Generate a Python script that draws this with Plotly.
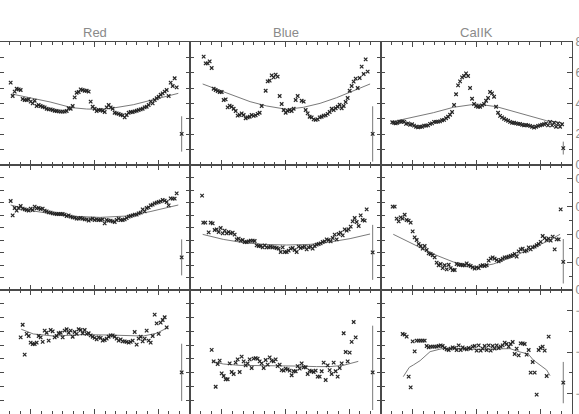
import plotly.graph_objects as go

# ======================================
# DATA
# ======================================

obs = [0, 1, 2, 3, 4, 5, 6, 7, 8, 9, 10, 11, 12, 13, 14, 15, 16, 17, 18, 19,
       20, 21, 22, 23, 24, 25, 26, 27, 28, 29, 30, 31, 32, 33, 34, 35, 36, 37, 38, 39,
       40, 41, 42, 43, 44, 45, 46, 47, 48, 49, 50, 51, 52, 53, 54, 55, 56, 57, 58, 59,
       60, 61, 62, 63, 64, 65, 66, 67, 68, 69, 70, 71, 72, 73, 74, 75, 76, 77, 78, 79,
       80, 81, 82, 83, 84, 85, 86]

titles = ["Red", "Blue", "CaIIK"]

# ---- top row ----
red_top_x = obs[0:84]
red_top_y = [5.36, 4.49, 4.77, 4.96, 4.92, 4.88, 4.29, 4.23, 4.23, 4.27,
             4.12, 4.01, 4.18, 3.84, 3.90, 3.84, 3.79, 3.75, 3.66, 3.62,
             3.62, 3.58, 3.53, 3.51, 3.49, 3.47, 3.47, 3.47, 3.51, 3.69,
             3.66, 3.84, 4.40, 4.70, 4.75, 4.92, 4.88, 4.83, 4.83, 4.77,
             4.12, 3.79, 3.66, 3.51, 3.58, 3.58, 3.53, 3.45, 3.75, 3.90,
             3.75, 3.66, 3.40, 3.36, 3.32, 3.27, 3.23, 3.10, 3.25, 3.40,
             3.45, 3.45, 3.49, 3.53, 3.58, 3.62, 3.66, 3.75, 3.79, 3.90,
             4.12, 4.01, 4.23, 4.34, 4.44, 4.57, 4.66, 4.77, 4.88, 4.49,
             5.36, 5.14, 5.64, 5.05]
red_top_fit_x = [0.5, 11.3, 19.7, 30.5, 38.0, 44.7, 50.5, 61.3, 69.7, 78.0, 83.8]
red_top_fit_y = [4.62, 4.31, 4.10, 3.73, 3.64, 3.62, 3.69, 3.92, 4.18, 4.44, 4.66]

blue_top_x = obs[1:31] + obs[32:49] + obs[50:84]
blue_top_y = [7.05, 6.61, 6.61, 6.74, 6.31, 4.96, 4.88, 4.81, 4.75, 4.75,
              4.23, 4.27, 3.75, 3.86, 3.79, 3.66, 3.51, 3.21, 3.25, 3.36,
              3.25, 3.04, 3.10, 3.14, 3.25, 3.19, 3.23, 3.32, 3.40, 3.84,
              4.83, 5.44, 5.49, 5.83, 5.70, 5.88, 5.75, 4.49, 3.97, 3.58,
              3.40, 3.51, 3.58, 3.51, 3.66, 4.23, 4.49, 4.18, 4.12,
              3.58, 3.36, 3.14, 3.10, 2.97, 2.93, 2.97, 3.10, 3.14, 3.21,
              3.23, 3.32, 3.45, 3.66, 3.58, 3.69, 3.79, 3.92, 3.69, 3.84,
              4.10, 4.36, 4.83, 5.14, 5.42, 5.62, 5.01, 5.66, 6.40, 5.92,
              6.87, 6.07]
blue_top_fit_x = [0.5, 7.5, 15.8, 24.2, 32.5, 42.5, 50.8, 59.2, 67.5, 75.8, 84.2]
blue_top_fit_y = [5.27, 4.92, 4.49, 4.12, 3.84, 3.62, 3.75, 4.01, 4.38, 4.83, 5.27]

cak_top_x = [-0.2, 0.7, 1.5, 2.3, 3.3, 4.2, 5.0, 5.8, 6.7, 7.7, 8.7, 9.7, 10.7, 11.7,
             12.7, 13.7, 14.7, 15.7, 16.7, 17.7, 18.7, 19.7, 20.7, 21.7, 22.7, 23.7,
             24.7, 25.7, 26.7, 27.7, 28.7, 29.7, 30.7, 31.7, 32.7, 33.7, 34.7, 35.7,
             36.7, 37.7, 38.7, 39.7, 40.7, 41.7, 42.7, 43.7, 44.7, 45.7, 46.7, 47.7,
             48.7, 49.7, 50.7, 51.7, 52.7, 53.7, 54.7, 55.7, 56.7, 57.7, 58.7, 59.7,
             60.7, 61.7, 62.7, 63.7, 64.7, 65.7, 66.7, 67.7, 68.7, 69.7, 70.7, 71.7,
             72.7, 73.7, 74.7, 75.7, 76.7, 77.7, 78.7, 79.7, 80.7, 81.7, 82.7, 83.7, 84.7]
cak_top_y = [2.78, 2.75, 2.71, 2.75, 2.82, 2.80, 2.84, 2.80, 2.67, 2.71,
             2.62, 2.65, 2.56, 2.49, 2.45, 2.49, 2.49, 2.56, 2.56, 2.58,
             2.67, 2.71, 2.80, 2.80, 2.82, 2.84, 2.91, 2.93, 3.04, 3.14,
             3.27, 3.45, 3.90, 4.60, 5.18, 5.44, 5.70, 5.79, 5.96, 5.79,
             5.01, 4.31, 3.97, 3.84, 3.79, 3.79, 3.88, 3.97, 4.18, 4.36,
             4.75, 4.66, 4.44, 3.79, 3.40, 3.19, 3.10, 3.01, 2.93, 2.88,
             2.80, 2.75, 2.75, 2.71, 2.67, 2.67, 2.62, 2.58, 2.60, 2.58,
             2.54, 2.49, 2.43, 2.49, 2.54, 2.58, 2.62, 2.65, 2.71, 2.58,
             2.80, 2.58, 2.75, 2.49, 2.71, 2.49, 2.65]
cak_top_fit_x = [0.0, 10.3, 20.3, 30.3, 42.0, 52.0, 60.3, 68.7, 77.0, 84.5]
cak_top_fit_y = [2.82, 3.10, 3.40, 3.75, 3.97, 3.79, 3.49, 3.14, 2.88, 2.75]

# ---- middle row ----
red_mid_x = obs[0:84]
red_mid_y = [7.12, 5.97, 6.56, 6.35, 6.56, 6.72, 6.51, 6.45, 6.40, 6.35,
             6.51, 6.40, 6.67, 6.53, 6.56, 6.48, 6.51, 6.35, 6.29, 6.21,
             6.19, 6.13, 6.11, 6.08, 6.08, 6.08, 6.08, 6.03, 5.92, 5.97,
             5.87, 5.81, 5.79, 5.71, 5.71, 5.76, 5.71, 5.65, 5.65, 5.55,
             5.65, 5.71, 5.60, 5.65, 5.60, 5.60, 5.65, 5.33, 5.60, 5.55,
             5.55, 5.49, 5.44, 5.60, 5.71, 5.60, 5.60, 5.65, 5.76, 5.87,
             5.92, 5.97, 6.03, 6.03, 6.13, 6.19, 6.45, 6.29, 6.56, 6.61,
             6.77, 6.83, 6.93, 6.99, 7.04, 7.09, 7.20, 7.15, 7.04, 6.77,
             7.33, 7.31, 7.31, 7.73]
red_mid_fit_x = [0.0, 11.3, 28.0, 44.7, 58.0, 69.7, 83.8]
red_mid_fit_y = [6.80, 6.32, 5.92, 5.81, 5.92, 6.27, 6.80]

blue_mid_x = [0.2, 0.8, 1.8, 3.5, 4.5, 5.5, 6.5, 7.5, 8.5, 9.5, 10.5, 11.5, 12.5,
              13.5, 14.5, 15.5, 16.5, 17.5, 18.5, 19.5, 20.5, 21.5, 22.5, 23.5,
              24.5, 25.5, 26.5, 27.5, 28.5, 29.5, 30.5, 31.5, 32.5, 33.5, 34.5,
              35.5, 36.5, 37.5, 38.5, 39.5, 40.5, 41.5, 42.5, 43.5, 44.5, 45.5,
              46.5, 47.5, 48.5, 49.5, 50.5, 51.5, 52.5, 53.5, 54.5, 55.5, 56.5,
              57.5, 58.5, 59.5, 60.5, 61.5, 62.5, 63.5, 64.5, 65.5, 66.5, 67.5,
              68.5, 69.5, 70.5, 71.5, 72.5, 73.5, 74.5, 75.5, 76.5, 77.5, 78.5,
              79.5, 80.5, 81.5, 82.5]
blue_mid_y = [7.55, 5.39, 5.39, 4.61, 5.39, 5.33, 4.80, 4.85, 4.64, 4.96,
              4.53, 4.75, 4.53, 4.64, 4.53, 4.59, 4.43, 4.05, 4.11, 3.95,
              4.00, 3.84, 3.84, 3.89, 3.95, 3.95, 3.92, 3.57, 3.52, 3.52,
              3.41, 3.57, 3.41, 3.41, 3.47, 3.41, 3.41, 3.36, 3.31, 3.04,
              3.41, 3.04, 3.04, 3.15, 3.31, 3.36, 3.20, 3.04, 3.47, 3.36,
              3.41, 3.47, 3.25, 3.41, 3.47, 3.31, 3.52, 3.63, 3.68, 3.73,
              3.84, 3.89, 4.05, 4.00, 3.89, 4.16, 4.43, 4.05, 4.48, 4.59,
              4.37, 4.85, 4.75, 4.85, 5.07, 5.49, 5.76, 5.44, 5.12, 5.97,
              5.60, 5.55, 6.45]
blue_mid_fit_x = [0.5, 10.8, 20.8, 30.8, 42.5, 54.2, 64.2, 74.2, 84.2]
blue_mid_fit_y = [4.45, 4.05, 3.79, 3.65, 3.60, 3.65, 3.84, 4.11, 4.48]

cak_mid_x = obs[0:85]
cak_mid_y = [0.0600, 0.0600, 0.0514, 0.0494, 0.0523, 0.0514, 0.0542, 0.0504, 0.0499, 0.0485,
             0.0422, 0.0379, 0.0360, 0.0331, 0.0317, 0.0298, 0.0317, 0.0288, 0.0264, 0.0259,
             0.0250, 0.0235, 0.0197, 0.0178, 0.0187, 0.0158, 0.0178, 0.0149, 0.0182, 0.0158,
             0.0144, 0.0144, 0.0187, 0.0182, 0.0182, 0.0178, 0.0178, 0.0192, 0.0178, 0.0173,
             0.0163, 0.0154, 0.0163, 0.0158, 0.0173, 0.0178, 0.0173, 0.0178, 0.0211, 0.0226,
             0.0235, 0.0226, 0.0216, 0.0206, 0.0216, 0.0226, 0.0235, 0.0235, 0.0240, 0.0245,
             0.0250, 0.0259, 0.0240, 0.0278, 0.0293, 0.0298, 0.0278, 0.0283, 0.0307, 0.0293,
             0.0307, 0.0312, 0.0322, 0.0331, 0.0346, 0.0389, 0.0374, 0.0360, 0.0370, 0.0355,
             0.0384, 0.0293, 0.0365, 0.0365, 0.0581]
cak_mid_fit_x = [0.3, 10.3, 20.3, 30.3, 42.0, 50.3, 60.3, 70.3, 77.0, 83.7]
cak_mid_fit_y = [0.0401, 0.0331, 0.0259, 0.0202, 0.0163, 0.0187, 0.0240, 0.0307, 0.0348, 0.0401]

# ---- bottom row ----
red_bot_x = obs[5:79]
red_bot_y = [5.56, 6.48, 4.31, 5.81, 5.66, 5.18, 5.08, 5.08, 5.18, 5.66,
             5.56, 5.23, 6.05, 5.90, 5.32, 6.10, 6.00, 5.56, 5.66, 5.86,
             5.90, 5.56, 6.05, 6.15, 5.90, 6.05, 5.61, 5.95, 5.81, 6.15,
             6.10, 5.86, 6.10, 5.81, 5.86, 5.71, 5.61, 5.52, 5.42, 5.56,
             5.52, 5.32, 5.37, 5.47, 5.61, 5.71, 5.71, 5.61, 5.47, 5.32,
             5.42, 5.27, 5.27, 5.23, 5.18, 5.23, 5.32, 5.95, 5.03, 5.47,
             5.61, 5.27, 5.47, 6.05, 5.32, 5.18, 5.66, 7.21, 6.58, 5.81,
             6.63, 6.82, 7.02, 6.29]
red_bot_fit_x = [5.3, 11.3, 21.3, 36.3, 49.7, 66.3, 73.0, 78.8]
red_bot_fit_y = [6.15, 5.81, 5.66, 5.76, 5.73, 5.66, 5.86, 6.29]

blue_bot_x = obs[5:78]
blue_bot_y = [4.65, 3.82, 1.98, 3.63, 3.87, 2.95, 2.76, 2.52, 2.52, 3.68,
              3.05, 2.90, 3.73, 3.97, 3.05, 4.16, 3.82, 3.53, 3.68, 3.97,
              3.34, 4.02, 4.06, 4.02, 3.82, 3.68, 3.34, 3.92, 3.58, 4.11,
              3.87, 3.82, 3.97, 3.48, 3.58, 3.19, 3.15, 3.29, 3.24, 3.15,
              2.81, 3.10, 3.10, 3.48, 3.29, 3.68, 3.39, 3.39, 2.90, 3.15,
              3.10, 3.05, 3.15, 2.71, 2.71, 3.10, 3.73, 2.47, 3.53, 3.19,
              2.90, 3.73, 3.10, 2.71, 3.34, 3.68, 5.86, 4.50, 3.82, 4.45,
              5.23, 6.68, 5.56]
blue_bot_fit_x = [5.2, 10.8, 19.2, 27.5, 37.5, 47.5, 57.5, 64.2, 70.8, 78.3]
blue_bot_fit_y = [3.82, 3.63, 3.53, 3.53, 3.48, 3.48, 3.44, 3.44, 3.53, 3.82]

cak_bot_x = obs[5:79]
cak_bot_y = [-0.1565, -0.1581, -0.1629, -0.2597, -0.2855, -0.1742, -0.1984, -0.1726, -0.1726, -0.1726,
             -0.1726, -0.1726, -0.1855, -0.1887, -0.1871, -0.1871, -0.1871, -0.1871, -0.1855, -0.1839,
             -0.1855, -0.1903, -0.1935, -0.1952, -0.1919, -0.1887, -0.1903, -0.1952, -0.1839, -0.1952,
             -0.1887, -0.1919, -0.1935, -0.1903, -0.1919, -0.1871, -0.1855, -0.1968, -0.1839, -0.1968,
             -0.1919, -0.1855, -0.1952, -0.1839, -0.1968, -0.1855, -0.1919, -0.1839, -0.1903, -0.1871,
             -0.1839, -0.1774, -0.1806, -0.1871, -0.1806, -0.1758, -0.2048, -0.1919, -0.2081, -0.1790,
             -0.1790, -0.1806, -0.2065, -0.1952, -0.2500, -0.2242, -0.2500, -0.3032, -0.1952, -0.1903,
             -0.1871, -0.1968, -0.2581, -0.1629]
cak_bot_fit_x = [5.3, 8.3, 10.3, 13.7, 18.7, 25.3, 42.0, 58.7, 63.7, 67.8, 70.3, 73.7, 77.0, 78.7]
cak_bot_fit_y = [-0.2597, -0.2371, -0.2315, -0.2210, -0.1992, -0.1911, -0.1935, -0.1919,
                 -0.2000, -0.2048, -0.2194, -0.2323, -0.2435, -0.2573]

# ---- typical error bars (one per panel: Red, Blue, CaIIK) ----
err_x = [85.5, 85.5, 85.3]
err_top_y = [2.02, 2.02, 1.10]
err_top_up = [1.15, 1.80, 0.42]
err_top_dn = [1.15, 1.80, 0.42]
err_mid_y = [2.61, 3.01, 0.0202]
err_mid_up = [1.44, 2.20, 0.0165]
err_mid_dn = [1.44, 2.20, 0.0155]
err_bot_y = [3.02, 3.02, -0.274]
err_bot_up = [2.08, 3.39, 0.050]
err_bot_dn = [2.08, 2.73, 0.050]

# ======================================
# LAYOUT GEOMETRY
# ======================================

W, H = 579, 414
M_L, M_R, M_T, M_B = 0, 7, 42, 0
PW = W - M_L - M_R
PH = H - M_T - M_B

col_px = [(0, 190), (190, 381), (381, 572)]
row_px = [(0, 123), (123, 248), (248, 372)]

x_ranges = [[-5.333, 89.667], [-5.833, 89.667], [-5.833, 89.667]]
left_ranges = [[0, 8], [0, 10], [0, 9]]
right_axes = [
    dict(range=[0, 8], tick0=0, dtick=2, minor=1, fmt="d"),
    dict(range=[0, 0.09], tick0=0, dtick=0.02, minor=0.01, fmt=".2f"),
    dict(range=[-0.35, -0.05], tick0=-0.1, dtick=0.1, minor=0.05, fmt=".2f"),
]

AXIS = "#4a4a4a"
PT = "#262626"
FIT = "#7a7a7a"
TXT = "#8a8a8a"
FONT = "Liberation Sans, Arial, sans-serif"


def xdom(c):
    a, b = col_px[c]
    return [a / PW, b / PW]


def ydom(r):
    a, b = row_px[r]
    return [1 - b / PH, 1 - a / PH]


panels = [
    [(red_top_x, red_top_y, red_top_fit_x, red_top_fit_y),
     (blue_top_x, blue_top_y, blue_top_fit_x, blue_top_fit_y),
     (cak_top_x, cak_top_y, cak_top_fit_x, cak_top_fit_y)],
    [(red_mid_x, red_mid_y, red_mid_fit_x, red_mid_fit_y),
     (blue_mid_x, blue_mid_y, blue_mid_fit_x, blue_mid_fit_y),
     (cak_mid_x, cak_mid_y, cak_mid_fit_x, cak_mid_fit_y)],
    [(red_bot_x, red_bot_y, red_bot_fit_x, red_bot_fit_y),
     (blue_bot_x, blue_bot_y, blue_bot_fit_x, blue_bot_fit_y),
     (cak_bot_x, cak_bot_y, cak_bot_fit_x, cak_bot_fit_y)],
]
errors = [
    (err_top_y, err_top_up, err_top_dn),
    (err_mid_y, err_mid_up, err_mid_dn),
    (err_bot_y, err_bot_up, err_bot_dn),
]

# ======================================
# FIGURE
# ======================================

fig = go.Figure()
layout = {}

marker = dict(symbol="x-thin", size=3.5, line=dict(width=1.2, color=PT))

for r in range(3):
    for c in range(3):
        p = r * 3 + c + 1
        xa = f"x{p}"
        ya = f"y{p}"
        x, y, fx, fy = panels[r][c]
        ey, eup, edn = errors[r]

        base = ya
        if c == 2:
            base = f"y{10 + r}"
            # left axis of the CaIIK column keeps the Red/Blue scale
            layout[f"yaxis{10 + r}"] = dict(
                domain=ydom(r), anchor=xa, range=left_ranges[r],
                tick0=0, dtick=1, ticks="inside", ticklen=4,
                tickcolor=AXIS, showticklabels=False, showgrid=False,
                zeroline=False, showline=True, linecolor=AXIS,
                linewidth=1, mirror=False,
            )
            ra = right_axes[r]
            layout[f"yaxis{p}"] = dict(
                overlaying=base, side="right", anchor=xa, range=ra["range"],
                tick0=ra["tick0"], dtick=ra["dtick"], tickformat=ra["fmt"],
                ticks="inside", ticklen=5, tickcolor=AXIS,
                minor=dict(dtick=ra["minor"], ticks="inside", ticklen=3,
                           tickcolor=AXIS, showgrid=False),
                showticklabels=True, tickfont=dict(size=12, color=TXT, family=FONT),
                showgrid=False, zeroline=False, showline=True,
                linecolor=AXIS, linewidth=1,
            )
            fig.add_trace(go.Scatter(x=[None], y=[None], xaxis=xa, yaxis=base,
                                     showlegend=False, hoverinfo="skip"))
        else:
            layout[f"yaxis{p}"] = dict(
                domain=ydom(r), anchor=xa, range=left_ranges[r],
                tick0=0, dtick=1, ticks="inside", ticklen=4,
                tickcolor=AXIS, showticklabels=False, showgrid=False,
                zeroline=False, showline=True, linecolor=AXIS,
                linewidth=1, mirror="ticks",
            )

        layout[f"xaxis{p}"] = dict(
            domain=xdom(c), anchor=base, range=x_ranges[c],
            tick0=10.083, dtick=31.833, ticks="inside", ticklen=5,
            tickcolor=AXIS,
            minor=dict(tick0=-0.528, dtick=5.3056, ticks="inside", ticklen=3,
                       tickcolor=AXIS, showgrid=False),
            showticklabels=False, showgrid=False, zeroline=False,
            showline=True, linecolor=AXIS, linewidth=1, mirror="ticks",
        )

        fig.add_trace(go.Scatter(
            x=fx, y=fy, mode="lines", xaxis=xa, yaxis=ya,
            line=dict(color=FIT, width=1), showlegend=False,
        ))
        fig.add_trace(go.Scatter(
            x=x, y=y, mode="markers", xaxis=xa, yaxis=ya,
            marker=marker, showlegend=False,
        ))
        fig.add_trace(go.Scatter(
            x=[err_x[c]], y=[ey[c]], mode="markers", xaxis=xa, yaxis=ya,
            marker=marker, showlegend=False,
            error_y=dict(type="data", symmetric=False, array=[eup[c]],
                         arrayminus=[edn[c]], color=FIT, thickness=1, width=0),
        ))

annotations = []
for c, t in enumerate(titles):
    a, b = col_px[c]
    centre = (a + b) / 2 if c > 0 else (b - 1) / 2
    annotations.append(dict(
        text=t, x=centre / PW, y=1, xref="paper", yref="paper",
        xanchor="center", yanchor="middle", yshift=10, showarrow=False,
        font=dict(size=13, color=TXT, family=FONT),
    ))

fig.update_layout(
    width=W,
    height=H,
    margin=dict(l=M_L, r=M_R, t=M_T, b=M_B, autoexpand=False),
    paper_bgcolor="white",
    plot_bgcolor="white",
    showlegend=False,
    annotations=annotations,
    **layout,
)

fig.write_html(
    "out.html",
    config={"displayModeBar": False},
    post_script="document.body.style.margin='0';",
)
